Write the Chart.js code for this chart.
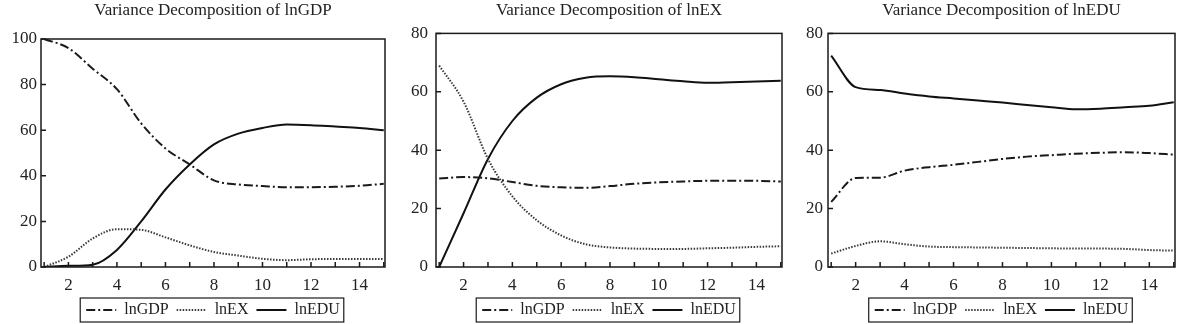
<!DOCTYPE html>
<html>
<head>
<meta charset="utf-8">
<script src="https://cdn.jsdelivr.net/npm/chart.js@4.4.0/dist/chart.umd.min.js"></script>
<style>
    body { margin: 0; background: #fff; }
    #wrap { display: flex; width: 1179px; height: 324px; }
    .panel { position: relative; width: 393px; height: 324px; }
</style>
</head>
<body>
<div id="wrap">
    <div class="panel"><canvas id="chart-gdp"></canvas></div>
    <div class="panel"><canvas id="chart-ex"></canvas></div>
    <div class="panel"><canvas id="chart-edu"></canvas></div>
</div>
<script>
// periods after the shock
const periods = [1, 2, 3, 4, 5, 6, 7, 8, 9, 10, 11, 12, 13, 14, 15];
const xTicks = [2, 4, 6, 8, 10, 12, 14];
const seriesNames = ['lnGDP', 'lnEX', 'lnEDU'];

// Variance Decomposition of lnGDP
const gdpByGDP = [100, 96, 87, 78, 63, 52, 45, 38, 36.2, 35.5, 35, 35, 35.2, 35.6, 36.5];
const gdpByEX  = [0, 4.5, 12.5, 16.6, 16.3, 13, 9.5, 6.6, 5, 3.6, 3, 3.4, 3.5, 3.5, 3.5];
const gdpByEDU = [0, 0.5, 1, 7.5, 20, 34, 45, 53.8, 58.5, 61, 62.5, 62.2, 61.6, 61, 60];
const gdpYTicks = [0, 20, 40, 60, 80, 100];

// Variance Decomposition of lnEX
const exByGDP = [30.3, 30.8, 30.4, 29.1, 27.8, 27.3, 27.1, 27.7, 28.5, 29, 29.3, 29.5, 29.5, 29.5, 29.3];
const exByEX  = [69, 56.6, 37, 24.2, 16, 10.8, 7.8, 6.7, 6.3, 6.2, 6.2, 6.4, 6.6, 6.9, 7.1];
const exByEDU = [0, 18.4, 37, 50, 58, 62.6, 64.8, 65.3, 65, 64.3, 63.6, 63.1, 63.3, 63.5, 63.8];
const exYTicks = [0, 20, 40, 60, 80];

// Variance Decomposition of lnEDU
const eduByGDP = [22.3, 30.5, 30.6, 33, 34.2, 35, 36, 37, 37.8, 38.3, 38.8, 39.1, 39.3, 39, 38.5];
const eduByEX  = [4.6, 7.2, 8.8, 7.8, 7, 6.8, 6.7, 6.6, 6.5, 6.4, 6.3, 6.3, 6.2, 5.8, 5.6];
const eduByEDU = [72.4, 61.6, 60.6, 59.4, 58.4, 57.7, 57, 56.3, 55.5, 54.7, 54, 54.2, 54.7, 55.2, 56.4];
const eduYTicks = [0, 20, 40, 60, 80];

const serif = "'Liberation Serif', 'Times New Roman', serif";

const framePlugin = {
    id: 'frame',
    afterDraw(chart) {
        const { ctx, chartArea: a, scales: { x, y } } = chart;
        ctx.save();
        ctx.strokeStyle = '#1a1a1a';
        ctx.lineWidth = 1.5;
        ctx.strokeRect(a.left, a.top, a.right - a.left, a.bottom - a.top);

        // inner tick marks
        ctx.beginPath();
        periods.forEach(p => {
            const px = x.getPixelForValue(p);
            ctx.moveTo(px, a.bottom);
            ctx.lineTo(px, a.bottom - 5);
        });
        y.ticks.forEach(t => {
            const py = y.getPixelForValue(t.value);
            ctx.moveTo(a.left, py);
            ctx.lineTo(a.left + 5, py);
        });
        ctx.stroke();

        // box round the legend
        const boxes = chart.legend.legendHitBoxes;
        if (boxes && boxes.length) {
            const left = Math.min(...boxes.map(b => b.left)) - 6;
            const right = Math.max(...boxes.map(b => b.left + b.width)) + 4;
            const top = Math.min(...boxes.map(b => b.top)) - 4;
            const bottom = Math.max(...boxes.map(b => b.top + b.height)) + 4;
            ctx.lineWidth = 1.2;
            ctx.strokeRect(left, top, right - left, bottom - top);
        }
        ctx.restore();
    }
};

function makeDatasets(byGDP, byEX, byEDU) {
    return [
        {
            label: seriesNames[0], data: byGDP,
            borderColor: '#1a1a1a', borderWidth: 2, borderDash: [9, 3, 2, 3]
        },
        {
            label: seriesNames[1], data: byEX,
            borderColor: '#3a3a3a', borderWidth: 2, borderDash: [1.5, 1.5]
        },
        {
            label: seriesNames[2], data: byEDU,
            borderColor: '#111', borderWidth: 2
        }
    ].map(ds => Object.assign(ds, {
        data: ds.data.map((v, i) => ({ x: periods[i], y: v })),
        pointRadius: 0,
        cubicInterpolationMode: 'monotone',
        fill: false
    }));
}

// keep the dash patterns in the legend samples
function legendLabels(chart) {
    const items = Chart.defaults.plugins.legend.labels.generateLabels(chart);
    items.forEach(item => {
        const ds = chart.data.datasets[item.datasetIndex];
        item.lineDash = ds.borderDash || [];
        item.strokeStyle = ds.borderColor;
        item.lineWidth = ds.borderWidth;
    });
    return items;
}

function drawPanel(id, title, datasets, yTicks, opts) {
    const ctx = document.getElementById(id).getContext('2d');
    new Chart(ctx, {
        type: 'line',
        data: { datasets: datasets },
        plugins: [framePlugin],
        options: {
            responsive: true,
            maintainAspectRatio: false,
            animation: false,
            events: [],
            layout: { padding: { left: 0, right: opts.right, top: 0, bottom: -4 } },
            plugins: {
                tooltip: { enabled: false },
                title: {
                    display: true,
                    fullSize: false,
                    text: title,
                    color: '#222',
                    font: { family: serif, size: 17, weight: 'normal' },
                    padding: { top: 0, bottom: opts.titleGap }
                },
                legend: {
                    position: 'bottom',
                    fullSize: false,
                    labels: {
                        color: '#222',
                        font: { family: serif, size: 16 },
                        usePointStyle: true,
                        pointStyle: 'line',
                        pointStyleWidth: 30,
                        padding: 8,
                        generateLabels: legendLabels
                    }
                }
            },
            scales: {
                x: {
                    type: 'linear',
                    min: 0.87,
                    max: 15.05,
                    grid: { display: false, drawTicks: false },
                    border: { display: false },
                    afterBuildTicks: scale => { scale.ticks = xTicks.map(v => ({ value: v })); },
                    afterFit: scale => { scale.height = 27; },
                    ticks: { color: '#222', font: { family: serif, size: 17 }, padding: 8, maxRotation: 0 }
                },
                y: {
                    min: yTicks[0],
                    max: yTicks[yTicks.length - 1],
                    grid: { display: false, drawTicks: false },
                    border: { display: false },
                    afterBuildTicks: scale => { scale.ticks = yTicks.map(v => ({ value: v })); },
                    afterFit: scale => { scale.width = opts.yWidth; },
                    ticks: { color: '#222', font: { family: serif, size: 17 }, padding: opts.yPad }
                }
            }
        }
    });
}

document.addEventListener('DOMContentLoaded', () => {
    drawPanel('chart-gdp', 'Variance Decomposition of lnGDP',
        makeDatasets(gdpByGDP, gdpByEX, gdpByEDU), gdpYTicks,
        { right: 8, yWidth: 41, yPad: 4, titleGap: 18.6 });
    drawPanel('chart-ex', 'Variance Decomposition of lnEX',
        makeDatasets(exByGDP, exByEX, exByEDU), exYTicks,
        { right: 4, yWidth: 43, yPad: 8, titleGap: 13 });
    drawPanel('chart-edu', 'Variance Decomposition of lnEDU',
        makeDatasets(eduByGDP, eduByEX, eduByEDU), eduYTicks,
        { right: 4, yWidth: 42, yPad: 5, titleGap: 13 });
});
</script>
</body>
</html>
